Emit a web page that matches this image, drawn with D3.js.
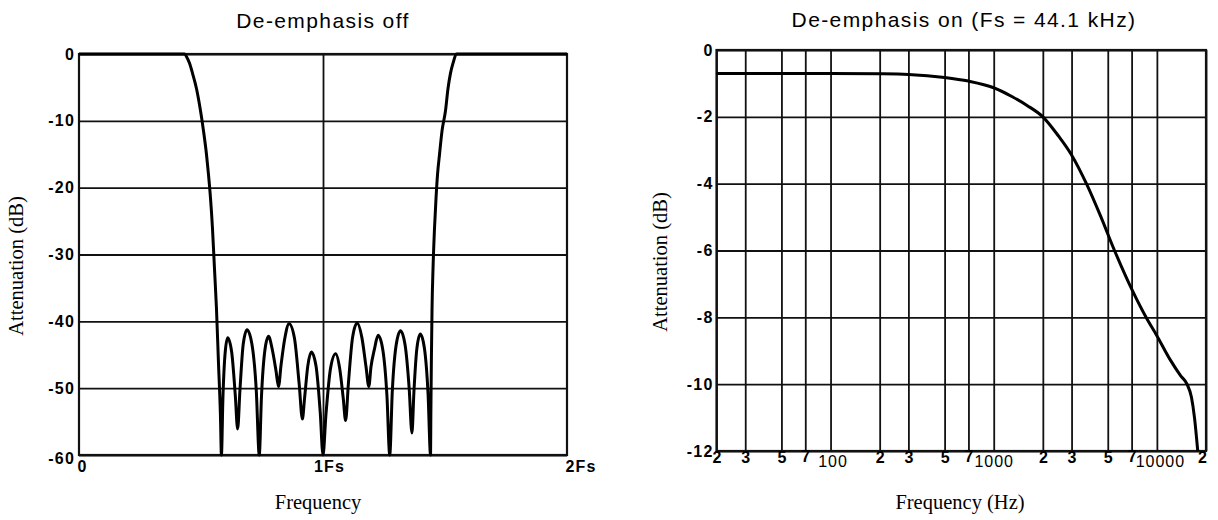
<!DOCTYPE html>
<html><head><meta charset="utf-8">
<script src="https://cdn.jsdelivr.net/npm/d3@7"></script>
<style>
html,body{margin:0;padding:0;background:#fff;}
svg{display:block;}
.tick text{font-family:"Liberation Sans",Arial,sans-serif;font-weight:bold;font-size:16px;letter-spacing:1.2px;fill:#000;}
.title{font-family:"Liberation Sans",Arial,sans-serif;font-size:21px;letter-spacing:1.4px;fill:#000;}
.axis-title{font-family:"Liberation Serif","Times New Roman",serif;font-size:20.5px;fill:#000;}
</style></head><body>
<svg id="chart" width="1218" height="520"></svg>
<script>
// ---------- Data: De-emphasis off (frequency in Fs, attenuation in dB) ----------
const offFreq = [0, 0.2, 0.4327, 0.4408, 0.4531, 0.4653, 0.4816, 0.4980, 0.5102, 0.5224, 0.5306, 0.5388, 0.5469, 0.5551, 0.5633, 0.5714, 0.5796, 0.5837,
  0.5898, 0.5992, 0.6094, 0.6257, 0.6404, 0.6502,
  0.6596, 0.6731, 0.6886, 0.7086, 0.7265, 0.7388,
  0.7478, 0.7616, 0.7767, 0.7931, 0.8078, 0.8176,
  0.8282, 0.8437, 0.8612, 0.8829, 0.9024, 0.9155,
  0.9245, 0.9376, 0.9522, 0.9714, 0.9886, 1.0,
  1.0122, 1.0310, 1.0518, 1.0682, 1.0829, 1.0927,
  1.1041, 1.1212, 1.1400, 1.1592, 1.1763, 1.1878,
  1.1967, 1.2106, 1.2257, 1.2449, 1.2620, 1.2735,
  1.2841, 1.3000, 1.3176, 1.3363, 1.3531, 1.3645,
  1.3727, 1.3849, 1.3988, 1.4155, 1.4306, 1.4408,
  1.4420, 1.4441, 1.4469, 1.4510, 1.4571, 1.4633, 1.4694, 1.4776, 1.4878, 1.5020, 1.5122, 1.5224, 1.5327, 1.5469, 1.8, 2.0];
const offAtten = [0, 0, 0, -0.4, -1.4, -2.9, -5.2, -8.5, -11.5, -15, -18, -21.5, -26, -32, -38, -46, -54, -60,
  -51.5, -44.6, -42.45, -44.6, -51, -56.1,
  -50.3, -43.4, -41.25, -43.4, -50.3, -60,
  -51.3, -44.4, -42.25, -44.4, -47.5, -49.75,
  -46.5, -42.5, -40.35, -42.5, -49.4, -54.6,
  -51.5, -46.7, -44.6, -46.7, -53.6, -60,
  -53.9, -47, -44.85, -47, -51.5, -54.85,
  -49.3, -42.4, -40.25, -42.4, -46.8, -49.75,
  -46.8, -44.2, -42.1, -44.2, -51.1, -60,
  -50.4, -43.5, -41.4, -43.5, -50, -56.7,
  -50.5, -44, -41.9, -44, -50.9, -60,
  -54, -46, -38, -32, -26, -21.5, -18, -15, -11.5, -8.5, -5.2, -2.9, -1.4, 0, 0, 0];
const offYTicks = [0, -10, -20, -30, -40, -50, -60];
const offXTicks = [0, 1, 2];
const offXTickLabels = ["0", "1Fs", "2Fs"];

// ---------- Data: De-emphasis on (Fs = 44.1 kHz) ----------
const onFreq = [20, 50, 100, 200, 300, 500, 700, 1000, 1300, 1600, 2000, 2500, 3000, 3700, 4500, 5500, 7000, 8700, 10000, 12000, 14000, 15300, 16300, 17000, 17800];
const onAtten = [-0.70, -0.70, -0.70, -0.71, -0.73, -0.82, -0.93, -1.13, -1.40, -1.66, -2.00, -2.58, -3.14, -4.00, -4.95, -6.00, -7.15, -8.05, -8.55, -9.25, -9.75, -10.00, -10.40, -11.00, -12.00];
const onYTicks = [0, -2, -4, -6, -8, -10, -12];
const onXTicks = [20, 30, 50, 70, 100, 200, 300, 500, 700, 1000, 2000, 3000, 5000, 7000, 10000, 20000];
const onXTickLabels = ["2", "3", "5", "7", "100", "2", "3", "5", "7", "1000", "2", "3", "5", "7", "10000", "2"];

const svg = d3.select("#chart");
const GRID = "#111", GW = 1.8, FW = 2.2;

// ================= Left chart =================
{
  const x = d3.scaleLinear().domain([0, 2]).range([79, 567]);
  const y = d3.scaleLinear().domain([-60, 0]).range([455, 54]);
  const g = svg.append("g");

  g.append("g").attr("transform", `translate(${x(0)},0)`)
    .call(d3.axisLeft(y).tickValues(offYTicks).tickSize(-(x(2) - x(0))).tickFormat(""))
    .call(s => s.select(".domain").remove())
    .call(s => s.selectAll("line").attr("stroke", GRID).attr("stroke-width", GW));
  g.append("g").attr("transform", `translate(0,${y(-60)})`)
    .call(d3.axisBottom(x).tickValues([1]).tickSize(-(y(-60) - y(0))).tickFormat(""))
    .call(s => s.select(".domain").remove())
    .call(s => s.selectAll("line").attr("stroke", GRID).attr("stroke-width", GW));
  g.append("rect").attr("x", x(0)).attr("y", y(0)).attr("width", x(2) - x(0)).attr("height", y(-60) - y(0))
    .attr("fill", "none").attr("stroke", GRID).attr("stroke-width", FW);

  g.append("g").attr("transform", `translate(${x(0)},0)`)
    .call(d3.axisLeft(y).tickValues(offYTicks).tickSize(0).tickPadding(4).tickFormat(d => String(d)))
    .call(s => s.select(".domain").remove())
    .call(s => s.selectAll(".tick").filter(d => d === -60).select("text").attr("dy", "0.55em"));
  g.append("g").attr("transform", `translate(0,${y(-60)})`)
    .call(d3.axisBottom(x).tickValues(offXTicks).tickSize(0).tickPadding(6).tickFormat((d, i) => offXTickLabels[i]))
    .call(s => s.select(".domain").remove())
    .call(s => s.selectAll(".tick text").attr("text-anchor", d => d === 1 ? "middle" : "start").attr("dx", d => d === 1 ? 6 : -2));

  const pts = offFreq.map((f, i) => [f, offAtten[i]]);
  g.append("path").datum(pts)
    .attr("fill", "none").attr("stroke", "#000").attr("stroke-width", 3).attr("stroke-linejoin", "round")
    .attr("d", d3.line().x(d => x(d[0])).y(d => y(d[1])).curve(d3.curveMonotoneX));

  g.append("text").attr("class", "title").attr("x", 323).attr("y", 28).attr("text-anchor", "middle").text("De-emphasis off");
  g.append("text").attr("class", "axis-title").attr("x", 318).attr("y", 509).attr("text-anchor", "middle").text("Frequency");
  g.append("text").attr("class", "axis-title").attr("transform", "translate(23,266) rotate(-90)").attr("text-anchor", "middle").text("Attenuation (dB)");
}

// ================= Right chart =================
{
  const x = d3.scaleLog().domain([20, 20000]).range([716.5, 1206]);
  const y = d3.scaleLinear().domain([-12, 0]).range([451, 50]);
  const g = svg.append("g");
  const isDecade = d => d === 100 || d === 1000 || d === 10000;

  g.append("g").attr("transform", `translate(${x(20)},0)`)
    .call(d3.axisLeft(y).tickValues(onYTicks).tickSize(-(x(20000) - x(20))).tickFormat(""))
    .call(s => s.select(".domain").remove())
    .call(s => s.selectAll("line").attr("stroke", GRID).attr("stroke-width", GW));
  g.append("g").attr("transform", `translate(0,${y(-12)})`)
    .call(d3.axisBottom(x).tickValues(onXTicks).tickSize(-(y(-12) - y(0))).tickFormat(""))
    .call(s => s.select(".domain").remove())
    .call(s => s.selectAll("line").attr("stroke", GRID).attr("stroke-width", GW));
  g.append("rect").attr("x", x(20)).attr("y", y(0)).attr("width", x(20000) - x(20)).attr("height", y(-12) - y(0))
    .attr("fill", "none").attr("stroke", GRID).attr("stroke-width", FW);

  g.append("g").attr("transform", `translate(${x(20)},0)`)
    .call(d3.axisLeft(y).tickValues(onYTicks).tickSize(0).tickPadding(3).tickFormat(d => String(d)))
    .call(s => s.select(".domain").remove());
  g.append("g").attr("transform", `translate(0,${y(-12)})`)
    .call(d3.axisBottom(x).tickValues(onXTicks).tickSize(0).tickPadding(1).tickFormat((d, i) => onXTickLabels[i]))
    .call(s => s.select(".domain").remove())
    .call(s => s.selectAll(".tick text")
      .style("font-weight", d => isDecade(d) ? "normal" : "bold")
      .style("letter-spacing", d => isDecade(d) ? "1px" : "0px")
      .attr("dy", d => isDecade(d) ? "0.95em" : (d === 70 || d === 700 || d === 7000) ? "0.6em" : "0.7em")
      .attr("dx", d => d === 100 ? 2 : d === 1000 ? 0 : d === 10000 ? 3 : d === 20000 ? -4 : 0));

  const pts = onFreq.map((f, i) => [f, onAtten[i]]);
  g.append("path").datum(pts)
    .attr("fill", "none").attr("stroke", "#000").attr("stroke-width", 3).attr("stroke-linejoin", "round")
    .attr("d", d3.line().x(d => x(d[0])).y(d => y(d[1])).curve(d3.curveMonotoneX));

  g.append("text").attr("class", "title").attr("x", 964).attr("y", 27).attr("text-anchor", "middle").text("De-emphasis on (Fs = 44.1 kHz)");
  g.append("text").attr("class", "axis-title").attr("x", 960).attr("y", 509).attr("text-anchor", "middle").text("Frequency (Hz)");
  g.append("text").attr("class", "axis-title").attr("transform", "translate(667,262) rotate(-90)").attr("text-anchor", "middle").text("Attenuation (dB)");
}
</script>
</body></html>
